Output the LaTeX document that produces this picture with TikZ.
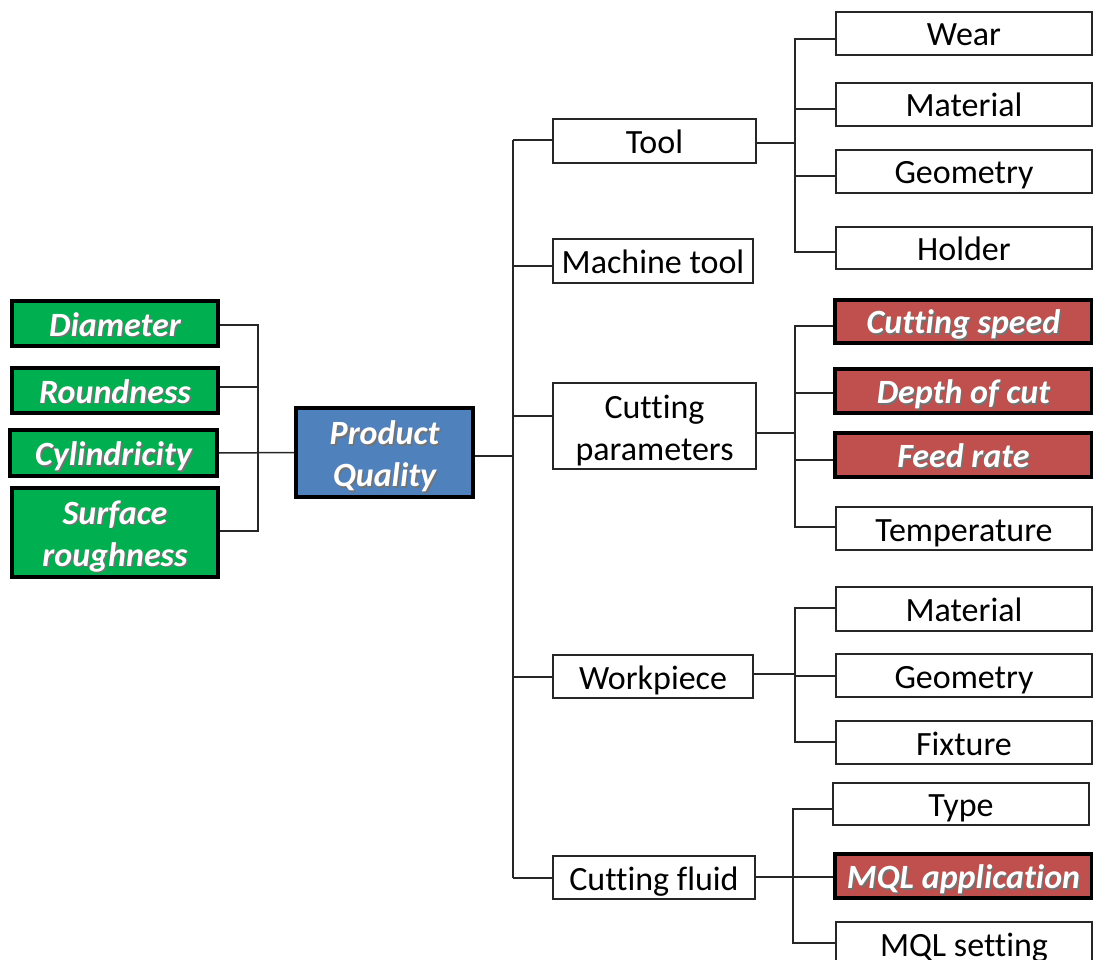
\documentclass[tikz,border=0pt]{standalone}
\usepackage{fontspec}
\setmainfont[Ligatures=NoCommon]{Carlito}
\usetikzlibrary{calc}

\definecolor{qgreen}{HTML}{00B050}
\definecolor{qred}{HTML}{C0504D}
\definecolor{qblue}{HTML}{4F81BD}
\definecolor{qline}{HTML}{262626}

% white text with a soft drop shadow
\newcommand\shad[1]{\rlap{\kern1.6pt\raisebox{-1.6pt}{\textcolor{black!55}{#1}}}#1}
% strut that sets the first line of a two-line label
\newcommand\topstrut{\rule{0pt}{33pt}}

\tikzset{
  basebox/.style={rectangle, inner sep=0pt, align=center,
    font=\fontsize{34}{42}\selectfont},
  oneline/.style={text height=31pt, text depth=6pt},
  wboxm/.style={basebox, draw=qline, line width=1.6pt, fill=white, text=black},
  wbox/.style={wboxm, oneline},
  hbox/.style={basebox, draw=black, line width=3.6pt, text=white,
    font=\fontsize{34}{42}\selectfont\bfseries\itshape},
  gboxm/.style={hbox, fill=qgreen},
  gbox/.style={gboxm, oneline},
  rbox/.style={hbox, fill=qred, oneline},
  bboxm/.style={hbox, fill=qblue},
  conn/.style={draw=qline, line width=1.5pt},
}

\begin{document}
\begin{tikzpicture}[x=1pt, y=-1pt]
\useasboundingbox (0,0) rectangle (1093,960);
\clip (0,0) rectangle (1093,960);

% quality measures
\node[gbox, minimum width=206, minimum height=45] (diam) at (115,323.5) {\shad{Diameter}};
\node[gbox, minimum width=206, minimum height=45] (round) at (115,390.5) {\shad{Roundness}};
\node[gbox, minimum width=207, minimum height=46] (cyl) at (113.5,453) {\shad{Cylindricity}};
\node[gboxm, minimum width=206, minimum height=89] (surf) at (115,532.5) {\topstrut\shad{Surface}\\\shad{roughness}};

% root
\node[bboxm, minimum width=177, minimum height=89] (pq) at (384.5,452.5) {\topstrut\shad{Product}\\\shad{Quality}};

% main factors
\node[wbox, minimum width=203, minimum height=44] (tool) at (654.5,141) {Tool};
\node[wbox, minimum width=200, minimum height=44] (mach) at (653,261) {Machine tool};
\node[wboxm, minimum width=203, minimum height=86] (cpar) at (654.5,426) {\topstrut Cutting\\parameters};
\node[wbox, minimum width=200, minimum height=43] (work) at (653,676.5) {Workpiece};
\node[wbox, minimum width=202, minimum height=43] (fluid) at (654,877.5) {Cutting fluid};

% tool details
\node[wbox, minimum width=256, minimum height=43] (wear) at (964,33.5) {Wear};
\node[wbox, minimum width=256, minimum height=43] (tmat) at (964,104.5) {Material};
\node[wbox, minimum width=256, minimum height=43] (tgeo) at (964,171.5) {Geometry};
\node[wbox, minimum width=256, minimum height=42] (hold) at (964,248) {Holder};

% cutting parameter details
\node[rbox, minimum width=257, minimum height=43] (speed) at (963.5,321.5) {\shad{Cutting speed}};
\node[rbox, minimum width=257, minimum height=44] (depth) at (963.5,391) {\shad{Depth of cut}};
\node[rbox, minimum width=257, minimum height=44] (feed) at (963.5,455) {\shad{Feed rate}};
\node[wbox, minimum width=256, minimum height=43] (temp) at (964,528.5) {Temperature};

% workpiece details
\node[wbox, minimum width=256, minimum height=44] (wmat) at (964,609) {Material};
\node[wbox, minimum width=256, minimum height=43] (wgeo) at (964,675.5) {Geometry};
\node[wbox, minimum width=256, minimum height=43] (fix) at (964,742.5) {Fixture};

% cutting fluid details
\node[wbox, minimum width=256, minimum height=42] (type) at (961,804) {Type};
\node[rbox, minimum width=257, minimum height=44] (mql) at (963.5,876) {\shad{MQL application}};
\node[wbox, minimum width=256, minimum height=44] (mqls) at (964,944) {MQL setting};

% bus lines
\coordinate (busL) at (258,0);
\coordinate (busM) at (513,0);
\coordinate (busT) at (795,0);
\coordinate (busF) at (793,0);

% measures to root
\draw[conn] ([yshift=-1.5pt]diam.east) -- ([yshift=-1.5pt]diam.east -| busL)
  -- ([yshift=1.5pt]surf.east -| busL) -- ([yshift=1.5pt]surf.east);
\draw[conn] ([yshift=3.5pt]round.east) -- ([yshift=3.5pt]round.east -| busL);
\draw[conn] (cyl.east) -- (pq.west);

% root to main factors
\draw[conn] ([yshift=-3.5pt]pq.east) -- ([yshift=-3.5pt]pq.east -| busM);
\draw[conn] ([yshift=1pt]tool.west -| busM) -- ([yshift=-0.5pt]fluid.west -| busM);
\draw[conn] ([yshift=1pt]tool.west) -- ([yshift=1pt]tool.west -| busM);
\draw[conn] ([yshift=-5pt]mach.west) -- ([yshift=-5pt]mach.west -| busM);
\draw[conn] ([yshift=10pt]cpar.west) -- ([yshift=10pt]cpar.west -| busM);
\draw[conn] ([yshift=-0.5pt]work.west) -- ([yshift=-0.5pt]work.west -| busM);
\draw[conn] ([yshift=-0.5pt]fluid.west) -- ([yshift=-0.5pt]fluid.west -| busM);

% tool branch
\draw[conn] ([yshift=-2pt]tool.east) -- ([yshift=-2pt]tool.east -| busT);
\draw[conn] ([yshift=-5.5pt]wear.west) -| ([yshift=-4pt]hold.west -| busT) -- ([yshift=-4pt]hold.west);
\draw[conn] ([yshift=-4.5pt]tmat.west) -- ([yshift=-4.5pt]tmat.west -| busT);
\draw[conn] ([yshift=-4.5pt]tgeo.west) -- ([yshift=-4.5pt]tgeo.west -| busT);

% cutting parameter branch
\draw[conn] ([yshift=-7pt]cpar.east) -- ([yshift=-7pt]cpar.east -| busT);
\draw[conn] ([yshift=-4.5pt]speed.west) -| ([yshift=1.5pt]temp.west -| busT) -- ([yshift=1.5pt]temp.west);
\draw[conn] ([yshift=-2pt]depth.west) -- ([yshift=-2pt]depth.west -| busT);
\draw[conn] ([yshift=-5pt]feed.west) -- ([yshift=-5pt]feed.west -| busT);

% workpiece branch
\draw[conn] ([yshift=2.5pt]work.east) -- ([yshift=2.5pt]work.east -| busT);
\draw[conn] ([yshift=1pt]wmat.west) -| ([yshift=0.5pt]fix.west -| busT) -- ([yshift=0.5pt]fix.west);
\draw[conn] ([yshift=-0.5pt]wgeo.west) -- ([yshift=-0.5pt]wgeo.west -| busT);

% cutting fluid branch
\draw[conn] ([yshift=0.5pt]fluid.east) -- ([yshift=0.5pt]fluid.east -| busF);
\draw[conn] ([yshift=-5pt]type.west) -| ([yshift=1pt]mqls.west -| busF) -- ([yshift=1pt]mqls.west);
\draw[conn] ([yshift=-1pt]mql.west) -- ([yshift=-1pt]mql.west -| busF);
\end{tikzpicture}
\end{document}
